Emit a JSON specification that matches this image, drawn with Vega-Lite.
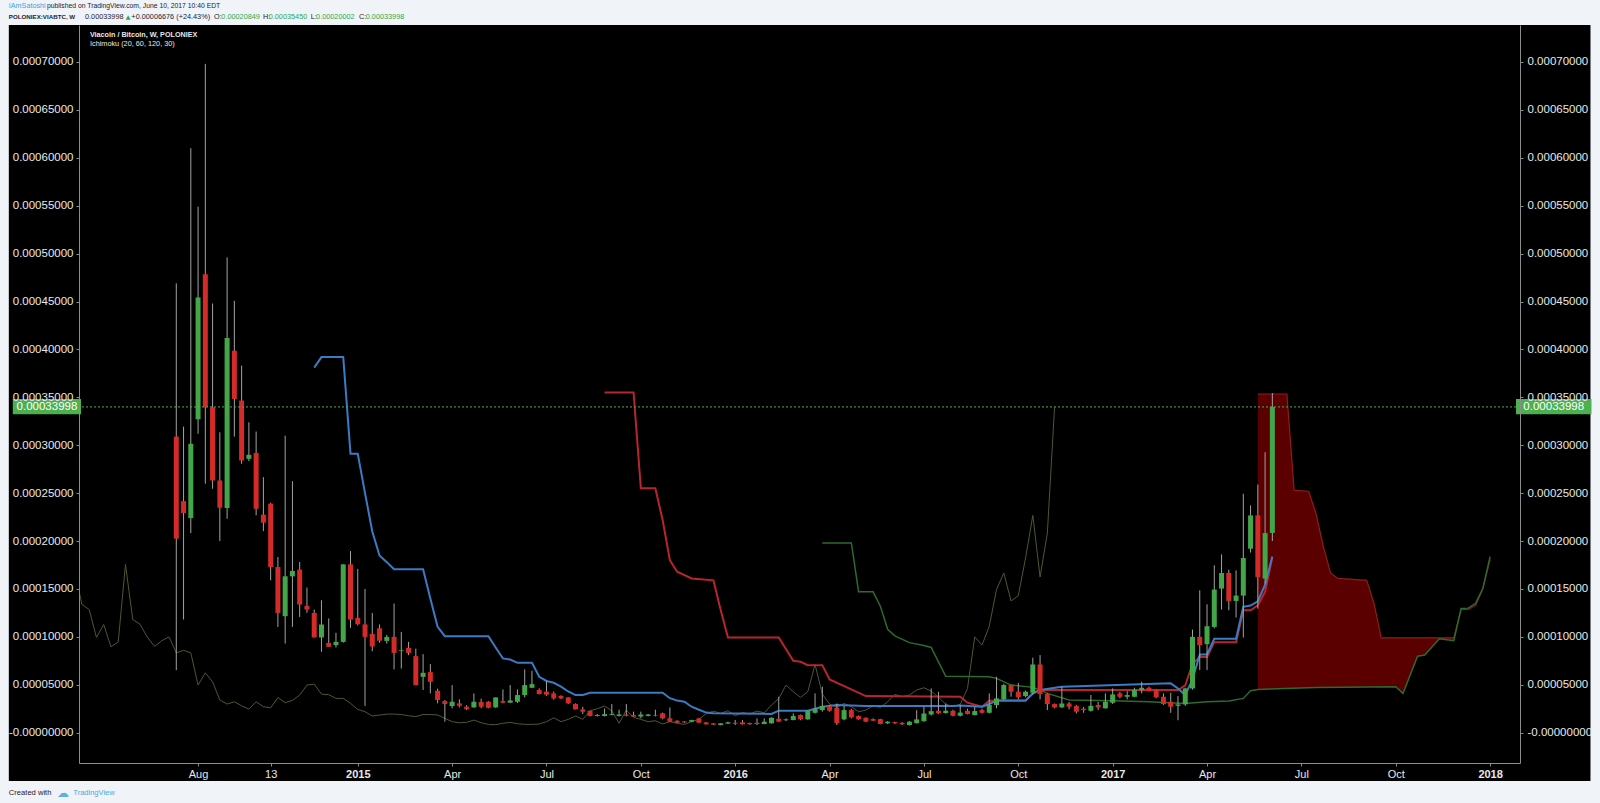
{
"$schema": "https://vega.github.io/schema/vega-lite/v6.json",
"width": 1441, "height": 738,
"autosize": {"type": "none"},
"padding": {"left": 79, "top": 25, "right": 80, "bottom": 40},
"background": "#f0f3f7",
"config": {"view": {"stroke": null}, "axis": {"grid": false, "title": null, "zindex": 1}},
"resolve": {"axis": {"x": "independent", "y": "independent"}},
"data": {"values": [{"k": 1}]},
"datasets": {
"candles": [
{"d":"2014-07-14","o":0.000309,"h":0.000469,"l":0.0000653,"c":0.0002025},
{"d":"2014-07-21","o":0.0002417,"h":0.0003195,"l":0.0001181,"c":0.0002292},
{"d":"2014-07-28","o":0.000224,"h":0.00061,"l":0.0002083,"c":0.0003015},
{"d":"2014-08-04","o":0.0003271,"h":0.000549,"l":0.0003119,"c":0.0004542},
{"d":"2014-08-11","o":0.0004785,"h":0.000698,"l":0.0002598,"c":0.0003396},
{"d":"2014-08-18","o":0.0003396,"h":0.0004479,"l":0.0002546,"c":0.0002632},
{"d":"2014-08-25","o":0.0002632,"h":0.0003135,"l":0.0002,"c":0.0002348},
{"d":"2014-09-01","o":0.0002344,"h":0.000496,"l":0.0002233,"c":0.0004119},
{"d":"2014-09-08","o":0.0003986,"h":0.0004507,"l":0.000309,"c":0.0003483},
{"d":"2014-09-15","o":0.0003466,"h":0.000383,"l":0.0002806,"c":0.0002841},
{"d":"2014-09-22","o":0.0002858,"h":0.000324,"l":0.0002833,"c":0.00029},
{"d":"2014-09-29","o":0.000292,"h":0.0003143,"l":0.0002268,"c":0.0002337},
{"d":"2014-10-06","o":0.0002275,"h":0.0002667,"l":0.0002104,"c":0.0002192},
{"d":"2014-10-13","o":0.000239,"h":0.00024,"l":0.000159,"c":0.0001729},
{"d":"2014-10-20","o":0.0001729,"h":0.0001833,"l":0.0001104,"c":0.000125},
{"d":"2014-10-27","o":0.0001216,"h":0.00031,"l":0.0000931,"c":0.0001632},
{"d":"2014-11-03","o":0.0001632,"h":0.0002625,"l":0.0001104,"c":0.0001688},
{"d":"2014-11-10","o":0.0001702,"h":0.0001781,"l":0.0001208,"c":0.0001338},
{"d":"2014-11-17","o":0.0001323,"h":0.0001515,"l":0.000125,"c":0.0001285},
{"d":"2014-11-24","o":0.000125,"h":0.0001285,"l":0.0000994,"c":0.0000994},
{"d":"2014-12-01","o":0.0000994,"h":0.0001382,"l":0.0000844,"c":0.0001129},
{"d":"2014-12-08","o":0.0000937,"h":0.0001192,"l":0.0000896,"c":0.0000896},
{"d":"2014-12-15","o":0.0000914,"h":0.0001042,"l":0.0000889,"c":0.0000948},
{"d":"2014-12-22","o":0.0000948,"h":0.0001757,"l":0.000094,"c":0.0001757},
{"d":"2014-12-29","o":0.0001757,"h":0.0001896,"l":0.0001094,"c":0.0001181},
{"d":"2015-01-05","o":0.0001198,"h":0.000171,"l":0.000112,"c":0.0001132},
{"d":"2015-01-12","o":0.000113,"h":0.00015,"l":0.000028,"c":0.0001},
{"d":"2015-01-19","o":0.000103,"h":0.000125,"l":0.000085,"c":0.00009},
{"d":"2015-01-26","o":0.000109,"h":0.000113,"l":0.000094,"c":0.000096},
{"d":"2015-02-02","o":0.0000958,"h":0.000102,"l":0.000093,"c":0.0001},
{"d":"2015-02-09","o":0.0001,"h":0.0001348,"l":0.000066,"c":0.0000833},
{"d":"2015-02-16","o":0.0000853,"h":0.0001052,"l":0.000067,"c":0.000086},
{"d":"2015-02-23","o":0.0000885,"h":0.0000948,"l":0.0000809,"c":0.0000833},
{"d":"2015-03-02","o":0.0000799,"h":0.0000877,"l":0.0000497,"c":0.0000497},
{"d":"2015-03-09","o":0.0000583,"h":0.000082,"l":0.0000445,"c":0.0000625},
{"d":"2015-03-16","o":0.0000632,"h":0.0000716,"l":0.000041,"c":0.0000531},
{"d":"2015-03-23","o":0.0000438,"h":0.000046,"l":0.0000306,"c":0.0000341},
{"d":"2015-03-30","o":0.000033,"h":0.0000341,"l":0.0000115,"c":0.0000299},
{"d":"2015-04-06","o":0.0000278,"h":0.0000497,"l":0.0000254,"c":0.0000323},
{"d":"2015-04-13","o":0.0000306,"h":0.0000348,"l":0.0000264,"c":0.0000281},
{"d":"2015-04-20","o":0.0000271,"h":0.0000288,"l":0.0000236,"c":0.0000247},
{"d":"2015-04-27","o":0.0000264,"h":0.000041,"l":0.000026,"c":0.0000323},
{"d":"2015-05-04","o":0.000032,"h":0.0000355,"l":0.0000255,"c":0.0000271},
{"d":"2015-05-11","o":0.0000323,"h":0.000033,"l":0.0000255,"c":0.000026},
{"d":"2015-05-18","o":0.0000264,"h":0.0000368,"l":0.000026,"c":0.0000368},
{"d":"2015-05-25","o":0.000033,"h":0.0000452,"l":0.0000306,"c":0.0000313},
{"d":"2015-06-01","o":0.0000313,"h":0.0000497,"l":0.000031,"c":0.0000337},
{"d":"2015-06-08","o":0.0000323,"h":0.0000452,"l":0.000031,"c":0.0000393},
{"d":"2015-06-15","o":0.0000393,"h":0.000066,"l":0.0000368,"c":0.0000497},
{"d":"2015-06-22","o":0.0000469,"h":0.0000646,"l":0.0000465,"c":0.0000507},
{"d":"2015-06-29","o":0.0000445,"h":0.0000462,"l":0.00004,"c":0.0000403},
{"d":"2015-07-06","o":0.0000428,"h":0.0000542,"l":0.0000385,"c":0.0000397},
{"d":"2015-07-13","o":0.000041,"h":0.000043,"l":0.0000345,"c":0.0000358},
{"d":"2015-07-20","o":0.0000383,"h":0.000039,"l":0.0000352,"c":0.0000358},
{"d":"2015-07-27","o":0.0000368,"h":0.0000372,"l":0.00003,"c":0.0000306},
{"d":"2015-08-03","o":0.0000299,"h":0.0000306,"l":0.0000243,"c":0.0000243},
{"d":"2015-08-10","o":0.0000243,"h":0.000027,"l":0.0000195,"c":0.0000219},
{"d":"2015-08-17","o":0.0000229,"h":0.000023,"l":0.000017,"c":0.0000174},
{"d":"2015-08-24","o":0.0000174,"h":0.0000195,"l":0.000017,"c":0.0000184},
{"d":"2015-08-31","o":0.0000174,"h":0.0000253,"l":0.000017,"c":0.0000194},
{"d":"2015-09-07","o":0.0000185,"h":0.0000299,"l":0.000018,"c":0.0000194},
{"d":"2015-09-14","o":0.0000175,"h":0.000024,"l":0.000017,"c":0.000019},
{"d":"2015-09-21","o":0.000019,"h":0.0000299,"l":0.000017,"c":0.0000177},
{"d":"2015-09-28","o":0.0000185,"h":0.000022,"l":0.0000165,"c":0.0000168},
{"d":"2015-10-05","o":0.0000168,"h":0.000022,"l":0.000015,"c":0.000019},
{"d":"2015-10-12","o":0.0000175,"h":0.0000195,"l":0.000017,"c":0.000019},
{"d":"2015-10-19","o":0.000018,"h":0.000024,"l":0.000017,"c":0.0000185},
{"d":"2015-10-26","o":0.0000202,"h":0.000021,"l":0.000014,"c":0.000015},
{"d":"2015-11-02","o":0.000015,"h":0.0000264,"l":0.000011,"c":0.0000115},
{"d":"2015-11-09","o":0.0000125,"h":0.000013,"l":0.00001,"c":0.0000104},
{"d":"2015-11-16","o":0.0000118,"h":0.000012,"l":0.00001,"c":0.0000108},
{"d":"2015-11-23","o":0.0000115,"h":0.0000135,"l":0.000011,"c":0.0000132},
{"d":"2015-11-30","o":0.0000149,"h":0.0000155,"l":0.00001,"c":0.0000104},
{"d":"2015-12-07","o":0.0000108,"h":0.000011,"l":0.0000084,"c":0.0000087},
{"d":"2015-12-14","o":0.0000098,"h":0.00001,"l":0.000008,"c":0.0000084},
{"d":"2015-12-21","o":0.000008,"h":0.00001,"l":0.0000077,"c":0.0000098},
{"d":"2015-12-28","o":0.0000094,"h":0.0000115,"l":0.000009,"c":0.0000108},
{"d":"2016-01-04","o":0.0000104,"h":0.0000132,"l":0.000008,"c":0.0000094},
{"d":"2016-01-11","o":0.0000108,"h":0.0000132,"l":0.0000085,"c":0.0000087},
{"d":"2016-01-18","o":0.0000101,"h":0.0000105,"l":0.0000084,"c":0.0000087},
{"d":"2016-01-25","o":0.0000104,"h":0.0000149,"l":0.000008,"c":0.0000091},
{"d":"2016-02-01","o":0.0000091,"h":0.0000149,"l":0.0000088,"c":0.0000115},
{"d":"2016-02-08","o":0.0000098,"h":0.000016,"l":0.0000095,"c":0.0000156},
{"d":"2016-02-15","o":0.0000146,"h":0.0000375,"l":0.000011,"c":0.0000115},
{"d":"2016-02-22","o":0.000013,"h":0.000015,"l":0.000012,"c":0.0000139},
{"d":"2016-02-29","o":0.0000132,"h":0.0000202,"l":0.000013,"c":0.0000174},
{"d":"2016-03-07","o":0.0000184,"h":0.000019,"l":0.000013,"c":0.0000139},
{"d":"2016-03-14","o":0.0000139,"h":0.0000235,"l":0.0000135,"c":0.0000229},
{"d":"2016-03-21","o":0.0000208,"h":0.000041,"l":0.00002,"c":0.000025},
{"d":"2016-03-28","o":0.0000236,"h":0.000048,"l":0.000022,"c":0.0000278},
{"d":"2016-04-04","o":0.0000278,"h":0.000029,"l":0.000022,"c":0.0000229},
{"d":"2016-04-11","o":0.000026,"h":0.0000305,"l":0.000008,"c":0.0000098},
{"d":"2016-04-18","o":0.0000139,"h":0.000028,"l":0.000013,"c":0.0000236},
{"d":"2016-04-25","o":0.0000236,"h":0.000025,"l":0.000015,"c":0.000016},
{"d":"2016-05-02","o":0.0000174,"h":0.000018,"l":0.0000135,"c":0.0000139},
{"d":"2016-05-09","o":0.0000156,"h":0.000016,"l":0.000011,"c":0.0000115},
{"d":"2016-05-16","o":0.0000142,"h":0.000015,"l":0.000012,"c":0.0000125},
{"d":"2016-05-23","o":0.0000142,"h":0.0000145,"l":0.0000088,"c":0.0000091},
{"d":"2016-05-30","o":0.0000098,"h":0.000012,"l":0.000009,"c":0.0000115},
{"d":"2016-06-06","o":0.0000111,"h":0.0000115,"l":0.000009,"c":0.0000098},
{"d":"2016-06-13","o":0.0000104,"h":0.000011,"l":0.000008,"c":0.0000087},
{"d":"2016-06-20","o":0.000008,"h":0.000012,"l":0.0000075,"c":0.0000115},
{"d":"2016-06-27","o":0.00001,"h":0.0000236,"l":0.0000095,"c":0.0000139},
{"d":"2016-07-04","o":0.000012,"h":0.000027,"l":0.0000115,"c":0.00002},
{"d":"2016-07-11","o":0.000019,"h":0.0000462,"l":0.000018,"c":0.0000225},
{"d":"2016-07-18","o":0.0000229,"h":0.0000427,"l":0.0000195,"c":0.0000202},
{"d":"2016-07-25","o":0.0000205,"h":0.0000305,"l":0.00002,"c":0.0000229},
{"d":"2016-08-01","o":0.0000229,"h":0.000024,"l":0.000017,"c":0.0000177},
{"d":"2016-08-08","o":0.0000177,"h":0.000029,"l":0.000017,"c":0.000021},
{"d":"2016-08-15","o":0.0000229,"h":0.000025,"l":0.000019,"c":0.0000195},
{"d":"2016-08-22","o":0.0000184,"h":0.000027,"l":0.000018,"c":0.0000226},
{"d":"2016-08-29","o":0.0000236,"h":0.000025,"l":0.00002,"c":0.0000208},
{"d":"2016-09-05","o":0.0000208,"h":0.000041,"l":0.00002,"c":0.0000289},
{"d":"2016-09-12","o":0.0000289,"h":0.0000584,"l":0.0000254,"c":0.0000358},
{"d":"2016-09-19","o":0.0000348,"h":0.000051,"l":0.000034,"c":0.0000497},
{"d":"2016-09-26","o":0.0000497,"h":0.00005,"l":0.0000375,"c":0.0000428},
{"d":"2016-10-03","o":0.0000428,"h":0.000052,"l":0.000035,"c":0.0000369},
{"d":"2016-10-10","o":0.0000382,"h":0.000044,"l":0.000037,"c":0.0000428},
{"d":"2016-10-17","o":0.0000417,"h":0.0000783,"l":0.00004,"c":0.0000712},
{"d":"2016-10-24","o":0.0000712,"h":0.000081,"l":0.0000348,"c":0.0000403},
{"d":"2016-10-31","o":0.0000403,"h":0.000041,"l":0.0000236,"c":0.0000299},
{"d":"2016-11-07","o":0.0000299,"h":0.0000305,"l":0.0000255,"c":0.0000264},
{"d":"2016-11-14","o":0.0000264,"h":0.000048,"l":0.000026,"c":0.0000305},
{"d":"2016-11-21","o":0.0000305,"h":0.000032,"l":0.0000243,"c":0.0000271},
{"d":"2016-11-28","o":0.0000278,"h":0.000029,"l":0.00002,"c":0.0000219},
{"d":"2016-12-05","o":0.000025,"h":0.000027,"l":0.0000208,"c":0.0000236},
{"d":"2016-12-12","o":0.0000229,"h":0.0000393,"l":0.000022,"c":0.0000281},
{"d":"2016-12-19","o":0.0000289,"h":0.000032,"l":0.0000236,"c":0.0000264},
{"d":"2016-12-26","o":0.0000254,"h":0.000041,"l":0.000025,"c":0.0000323},
{"d":"2017-01-02","o":0.0000313,"h":0.0000462,"l":0.00003,"c":0.00004},
{"d":"2017-01-09","o":0.000041,"h":0.0000427,"l":0.0000358,"c":0.0000375},
{"d":"2017-01-16","o":0.0000375,"h":0.0000434,"l":0.0000348,"c":0.0000393},
{"d":"2017-01-23","o":0.0000375,"h":0.0000469,"l":0.000037,"c":0.0000445},
{"d":"2017-01-30","o":0.0000445,"h":0.0000531,"l":0.000041,"c":0.0000469},
{"d":"2017-02-06","o":0.0000469,"h":0.000048,"l":0.000043,"c":0.0000434},
{"d":"2017-02-13","o":0.0000445,"h":0.000045,"l":0.000036,"c":0.0000369},
{"d":"2017-02-20","o":0.0000375,"h":0.000041,"l":0.000029,"c":0.0000299},
{"d":"2017-02-27","o":0.0000323,"h":0.0000417,"l":0.0000208,"c":0.0000271},
{"d":"2017-03-06","o":0.000028,"h":0.0000382,"l":0.000013,"c":0.0000295},
{"d":"2017-03-13","o":0.0000296,"h":0.000047,"l":0.000028,"c":0.0000462},
{"d":"2017-03-20","o":0.0000462,"h":0.0001076,"l":0.000045,"c":0.0001},
{"d":"2017-03-27","o":0.0001,"h":0.0001486,"l":0.0000653,"c":0.0000914},
{"d":"2017-04-03","o":0.0000924,"h":0.000134,"l":0.0000653,"c":0.0001111},
{"d":"2017-04-10","o":0.0001104,"h":0.0001747,"l":0.000109,"c":0.0001494},
{"d":"2017-04-17","o":0.0001504,"h":0.0001861,"l":0.0001285,"c":0.0001667},
{"d":"2017-04-24","o":0.0001667,"h":0.00017,"l":0.0001278,"c":0.0001375},
{"d":"2017-05-01","o":0.0001375,"h":0.0001694,"l":0.0001202,"c":0.0001431},
{"d":"2017-05-08","o":0.0001431,"h":0.0002494,"l":0.0000993,"c":0.0001823},
{"d":"2017-05-15","o":0.000192,"h":0.0002372,"l":0.000188,"c":0.0002268},
{"d":"2017-05-22","o":0.0002268,"h":0.000259,"l":0.0001295,"c":0.0001625},
{"d":"2017-05-29","o":0.0001608,"h":0.0002927,"l":0.0001556,"c":0.0002083},
{"d":"2017-06-05","o":0.00020849,"h":0.0003545,"l":0.00020002,"c":0.00033998}
],
"lag": [
{"d":"2014-04-07","v":0.0001688},{"d":"2014-04-14","v":0.0001338},{"d":"2014-04-21","v":0.0001285},{"d":"2014-04-28","v":0.0000994},
{"d":"2014-05-05","v":0.0001129},{"d":"2014-05-12","v":0.0000896},{"d":"2014-05-19","v":0.0000948},{"d":"2014-05-26","v":0.0001757},
{"d":"2014-06-02","v":0.0001181},{"d":"2014-06-09","v":0.0001132},{"d":"2014-06-16","v":0.0001},{"d":"2014-06-23","v":0.00009},
{"d":"2014-06-30","v":0.000096},{"d":"2014-07-07","v":0.0001},{"d":"2014-07-14","v":0.0000833},{"d":"2014-07-21","v":0.000086},
{"d":"2014-07-28","v":0.0000833},{"d":"2014-08-04","v":0.0000497},{"d":"2014-08-11","v":0.0000625},{"d":"2014-08-18","v":0.0000531},
{"d":"2014-08-25","v":0.0000341},{"d":"2014-09-01","v":0.0000299},{"d":"2014-09-08","v":0.0000323},{"d":"2014-09-15","v":0.0000281},
{"d":"2014-09-22","v":0.0000247},{"d":"2014-09-29","v":0.0000323},{"d":"2014-10-06","v":0.0000271},{"d":"2014-10-13","v":0.000026},
{"d":"2014-10-20","v":0.0000368},{"d":"2014-10-27","v":0.0000313},{"d":"2014-11-03","v":0.0000337},{"d":"2014-11-10","v":0.0000393},
{"d":"2014-11-17","v":0.0000497},{"d":"2014-11-24","v":0.0000507},{"d":"2014-12-01","v":0.0000403},{"d":"2014-12-08","v":0.0000397},
{"d":"2014-12-15","v":0.0000358},{"d":"2014-12-22","v":0.0000358},{"d":"2014-12-29","v":0.0000306},{"d":"2015-01-05","v":0.0000243},
{"d":"2015-01-12","v":0.0000219},{"d":"2015-01-19","v":0.0000174},{"d":"2015-01-26","v":0.0000184},{"d":"2015-02-02","v":0.0000194},
{"d":"2015-02-09","v":0.0000194},{"d":"2015-02-16","v":0.000019},{"d":"2015-02-23","v":0.0000177},{"d":"2015-03-02","v":0.0000168},
{"d":"2015-03-09","v":0.000019},{"d":"2015-03-16","v":0.000019},{"d":"2015-03-23","v":0.0000185},{"d":"2015-03-30","v":0.000015},
{"d":"2015-04-06","v":0.0000115},{"d":"2015-04-13","v":0.0000104},{"d":"2015-04-20","v":0.0000108},{"d":"2015-04-27","v":0.0000132},
{"d":"2015-05-04","v":0.0000104},{"d":"2015-05-11","v":0.0000087},{"d":"2015-05-18","v":0.0000084},{"d":"2015-05-25","v":0.0000098},
{"d":"2015-06-01","v":0.0000108},{"d":"2015-06-08","v":0.0000094},{"d":"2015-06-15","v":0.0000087},{"d":"2015-06-22","v":0.0000087},
{"d":"2015-06-29","v":0.0000091},{"d":"2015-07-06","v":0.0000115},{"d":"2015-07-13","v":0.0000156},{"d":"2015-07-20","v":0.0000115},
{"d":"2015-07-27","v":0.0000139},{"d":"2015-08-03","v":0.0000174},{"d":"2015-08-10","v":0.0000139},{"d":"2015-08-17","v":0.0000229},
{"d":"2015-08-24","v":0.000025},{"d":"2015-08-31","v":0.0000278},{"d":"2015-09-07","v":0.0000229},{"d":"2015-09-14","v":0.0000098},
{"d":"2015-09-21","v":0.0000236},{"d":"2015-09-28","v":0.000016},{"d":"2015-10-05","v":0.0000139},{"d":"2015-10-12","v":0.0000115},
{"d":"2015-10-19","v":0.0000125},{"d":"2015-10-26","v":0.0000091},{"d":"2015-11-02","v":0.0000115},{"d":"2015-11-09","v":0.0000098},
{"d":"2015-11-16","v":0.0000087},{"d":"2015-11-23","v":0.0000115},{"d":"2015-11-30","v":0.0000139},{"d":"2015-12-07","v":0.00002},
{"d":"2015-12-14","v":0.0000225},{"d":"2015-12-21","v":0.0000202},{"d":"2015-12-28","v":0.0000229},{"d":"2016-01-04","v":0.0000177},
{"d":"2016-01-11","v":0.000021},{"d":"2016-01-18","v":0.0000195},{"d":"2016-01-25","v":0.0000226},{"d":"2016-02-01","v":0.0000208},
{"d":"2016-02-08","v":0.0000289},{"d":"2016-02-15","v":0.0000358},{"d":"2016-02-22","v":0.0000497},{"d":"2016-02-29","v":0.0000428},
{"d":"2016-03-07","v":0.0000369},{"d":"2016-03-14","v":0.0000428},{"d":"2016-03-21","v":0.0000712},{"d":"2016-03-28","v":0.0000403},
{"d":"2016-04-04","v":0.0000299},{"d":"2016-04-11","v":0.0000264},{"d":"2016-04-18","v":0.0000305},{"d":"2016-04-25","v":0.0000271},
{"d":"2016-05-02","v":0.0000219},{"d":"2016-05-09","v":0.0000236},{"d":"2016-05-16","v":0.0000281},{"d":"2016-05-23","v":0.0000264},
{"d":"2016-05-30","v":0.0000323},{"d":"2016-06-06","v":0.00004},{"d":"2016-06-13","v":0.0000375},{"d":"2016-06-20","v":0.0000393},
{"d":"2016-06-27","v":0.0000445},{"d":"2016-07-04","v":0.0000469},{"d":"2016-07-11","v":0.0000434},{"d":"2016-07-18","v":0.0000369},
{"d":"2016-07-25","v":0.0000299},{"d":"2016-08-01","v":0.0000271},{"d":"2016-08-08","v":0.0000295},{"d":"2016-08-15","v":0.0000462},
{"d":"2016-08-22","v":0.0001},{"d":"2016-08-29","v":0.0000914},{"d":"2016-09-05","v":0.0001111},{"d":"2016-09-12","v":0.0001494},
{"d":"2016-09-19","v":0.0001667},{"d":"2016-09-26","v":0.0001375},{"d":"2016-10-03","v":0.0001431},{"d":"2016-10-10","v":0.0001823},
{"d":"2016-10-17","v":0.0002268},{"d":"2016-10-24","v":0.0001625},{"d":"2016-10-31","v":0.0002083},{"d":"2016-11-07","v":0.00033998}
],
"tenkan": [
{"d":"2014-11-24","v":0.000381},{"d":"2014-12-01","v":0.000392},{"d":"2014-12-22","v":0.000392},{"d":"2014-12-29","v":0.000291},
{"d":"2015-01-05","v":0.000291},{"d":"2015-01-12","v":0.00025},{"d":"2015-01-19","v":0.00021},{"d":"2015-01-26","v":0.000185},
{"d":"2015-02-02","v":0.000178},{"d":"2015-02-09","v":0.0001705},{"d":"2015-03-09","v":0.0001705},{"d":"2015-03-16","v":0.00014},
{"d":"2015-03-23","v":0.0001105},{"d":"2015-03-30","v":0.0001007},{"d":"2015-05-11","v":0.0001007},{"d":"2015-05-18","v":0.000089},
{"d":"2015-05-25","v":0.0000775},{"d":"2015-06-01","v":0.0000764},{"d":"2015-06-08","v":0.0000729},{"d":"2015-06-22","v":0.0000729},
{"d":"2015-06-29","v":0.0000584},{"d":"2015-07-06","v":0.000054},{"d":"2015-07-13","v":0.0000521},{"d":"2015-07-20","v":0.000048},
{"d":"2015-07-27","v":0.000043},{"d":"2015-08-03","v":0.0000393},{"d":"2015-08-10","v":0.0000393},{"d":"2015-08-17","v":0.0000417},
{"d":"2015-10-26","v":0.0000417},{"d":"2015-11-02","v":0.000036},{"d":"2015-11-09","v":0.0000335},{"d":"2015-11-16","v":0.0000324},
{"d":"2015-11-23","v":0.0000271},{"d":"2015-11-30","v":0.000024},{"d":"2015-12-07","v":0.000021},{"d":"2015-12-14","v":0.0000202},
{"d":"2016-02-08","v":0.0000196},{"d":"2016-02-15","v":0.000023},{"d":"2016-03-14","v":0.000023},{"d":"2016-03-21","v":0.000025},
{"d":"2016-03-28","v":0.0000271},{"d":"2016-04-11","v":0.0000288},{"d":"2016-05-09","v":0.0000278},{"d":"2016-08-01","v":0.0000278},
{"d":"2016-08-08","v":0.0000285},{"d":"2016-08-29","v":0.0000271},{"d":"2016-09-05","v":0.00003},{"d":"2016-09-12","v":0.0000335},
{"d":"2016-10-10","v":0.0000335},{"d":"2016-10-17","v":0.000041},{"d":"2016-10-24","v":0.0000445},{"d":"2016-11-14","v":0.000048},
{"d":"2017-02-27","v":0.0000515},{"d":"2017-03-06","v":0.0000462},{"d":"2017-03-13","v":0.0000393},{"d":"2017-03-20","v":0.0000556},
{"d":"2017-03-27","v":0.0000816},{"d":"2017-04-03","v":0.0000816},{"d":"2017-04-10","v":0.000098},{"d":"2017-05-01","v":0.000098},
{"d":"2017-05-08","v":0.0001313},{"d":"2017-05-15","v":0.0001327},{"d":"2017-05-22","v":0.0001372},{"d":"2017-05-29","v":0.0001545},
{"d":"2017-06-05","v":0.000184}
],
"kijun": [
{"d":"2015-08-31","v":0.000355},{"d":"2015-09-28","v":0.000355},{"d":"2015-10-05","v":0.000255},{"d":"2015-10-19","v":0.000255},
{"d":"2015-10-26","v":0.000222},{"d":"2015-11-02","v":0.00018},{"d":"2015-11-09","v":0.000168},{"d":"2015-11-23","v":0.000161},
{"d":"2015-12-14","v":0.000159},{"d":"2015-12-21","v":0.000128},{"d":"2015-12-28","v":0.0000994},{"d":"2016-02-15","v":0.0000994},
{"d":"2016-02-29","v":0.0000751},{"d":"2016-03-07","v":0.000074},{"d":"2016-03-14","v":0.0000705},{"d":"2016-03-28","v":0.0000705},
{"d":"2016-04-04","v":0.0000556},{"d":"2016-05-09","v":0.0000382},{"d":"2016-08-08","v":0.0000375},{"d":"2016-08-15","v":0.0000313},
{"d":"2016-08-29","v":0.0000271},{"d":"2016-09-05","v":0.0000334},{"d":"2016-10-10","v":0.0000334},{"d":"2016-10-17","v":0.000041},
{"d":"2016-10-24","v":0.0000445},{"d":"2017-03-06","v":0.0000445},{"d":"2017-03-13","v":0.0000493},{"d":"2017-03-20","v":0.0000719},
{"d":"2017-03-27","v":0.0000789},{"d":"2017-04-03","v":0.0000789},{"d":"2017-04-10","v":0.0000945},{"d":"2017-05-01","v":0.0000945},
{"d":"2017-05-08","v":0.0001278},{"d":"2017-05-15","v":0.0001278},{"d":"2017-05-22","v":0.000133},{"d":"2017-05-29","v":0.0001469},
{"d":"2017-06-05","v":0.0001833}
],
"spanA": [
{"d":"2016-03-28","v":0.000198},{"d":"2016-04-25","v":0.000198},{"d":"2016-05-02","v":0.000147},{"d":"2016-05-16","v":0.000147},
{"d":"2016-05-23","v":0.000132},{"d":"2016-05-30","v":0.000108},{"d":"2016-06-06","v":0.000101},{"d":"2016-06-20","v":0.000094},
{"d":"2016-07-04","v":0.000091},{"d":"2016-07-11","v":0.000089},{"d":"2016-07-18","v":0.000074},{"d":"2016-07-25","v":0.000059},
{"d":"2016-09-05","v":0.0000584},{"d":"2016-09-12","v":0.0000567},{"d":"2016-09-26","v":0.0000497},{"d":"2016-10-17","v":0.0000473},
{"d":"2016-10-24","v":0.0000445},{"d":"2016-10-31","v":0.000041},{"d":"2016-11-21","v":0.0000341},{"d":"2017-01-02","v":0.0000334},
{"d":"2017-02-06","v":0.0000323},{"d":"2017-03-13","v":0.0000306},{"d":"2017-04-03","v":0.0000323},{"d":"2017-04-24","v":0.000033},
{"d":"2017-05-08","v":0.0000358},{"d":"2017-05-15","v":0.0000438},{"d":"2017-05-22","v":0.0000451},{"d":"2017-07-17","v":0.0000472},
{"d":"2017-10-02","v":0.0000479},{"d":"2017-10-09","v":0.000041},{"d":"2017-10-23","v":0.0000799},{"d":"2017-10-30","v":0.000081},
{"d":"2017-11-13","v":0.000098},{"d":"2017-11-27","v":0.000096},{"d":"2017-12-04","v":0.0001296},{"d":"2017-12-11","v":0.00013},
{"d":"2017-12-18","v":0.000135},{"d":"2017-12-25","v":0.0001507},{"d":"2018-01-01","v":0.0001837}
],
"spanB": [
{"d":"2017-05-22","v":0.0003535},{"d":"2017-06-19","v":0.0003535},{"d":"2017-06-26","v":0.0002528},{"d":"2017-07-10","v":0.000252},
{"d":"2017-07-17","v":0.000229},{"d":"2017-07-24","v":0.000195},{"d":"2017-07-31","v":0.000167},{"d":"2017-08-07","v":0.000161},
{"d":"2017-09-04","v":0.000159},{"d":"2017-09-11","v":0.000135},{"d":"2017-09-18","v":0.000099},{"d":"2017-11-27","v":0.000099},
{"d":"2017-12-04","v":0.0001286},{"d":"2017-12-11","v":0.0001286},{"d":"2017-12-18","v":0.000133},{"d":"2017-12-25","v":0.00015},
{"d":"2018-01-01","v":0.000181}
],
"cloud": [
{"d":"2017-05-22","a":0.0000451,"b":0.0003535},{"d":"2017-06-19","a":0.0000462,"b":0.0003535},{"d":"2017-06-26","a":0.0000464,"b":0.0002528},
{"d":"2017-07-10","a":0.0000469,"b":0.000252},{"d":"2017-07-17","a":0.0000472,"b":0.000229},{"d":"2017-07-24","a":0.0000473,"b":0.000195},
{"d":"2017-07-31","a":0.0000473,"b":0.000167},{"d":"2017-08-07","a":0.0000474,"b":0.000161},{"d":"2017-09-04","a":0.0000476,"b":0.000159},
{"d":"2017-09-11","a":0.0000477,"b":0.000135},{"d":"2017-09-18","a":0.0000478,"b":0.000099},{"d":"2017-10-02","a":0.0000479,"b":0.000099},
{"d":"2017-10-09","a":0.000041,"b":0.000099},{"d":"2017-10-23","a":0.0000799,"b":0.000099},{"d":"2017-10-30","a":0.000081,"b":0.000099},
{"d":"2017-11-13","a":0.000098,"b":0.000099},{"d":"2017-11-27","a":0.000096,"b":0.000099}
]
},
"layer": [
{"mark": {"type": "rect", "color": "#000000"},
 "encoding": {"x": {"datum": 1391342772000, "type": "temporal", "axis": null}, "x2": {"datum": 1523127182000},
  "y": {"datum": 0.00073857, "type": "quantitative", "axis": null}, "y2": {"datum": -0.0000504}}},
{"data": {"name": "cloud"}, "mark": {"type": "area", "color": "#5a0000", "opacity": 1},
 "encoding": {"x": {"field": "d", "type": "temporal", "axis": null}, "y": {"field": "b", "type": "quantitative", "axis": null}, "y2": {"field": "a"}}},
{"data": {"name": "spanB"}, "mark": {"type": "line", "color": "#8c1f1c", "strokeWidth": 1.2},
 "encoding": {"x": {"field": "d", "type": "temporal", "axis": null}, "y": {"field": "v", "type": "quantitative", "axis": null}}},
{"data": {"name": "spanA"}, "mark": {"type": "line", "color": "#2c6a2f", "strokeWidth": 1.5},
 "encoding": {"x": {"field": "d", "type": "temporal", "axis": null}, "y": {"field": "v", "type": "quantitative", "axis": null}}},
{"data": {"name": "lag"}, "mark": {"type": "line", "color": "#4a5931", "strokeWidth": 1, "clip": true},
 "encoding": {"x": {"field": "d", "type": "temporal", "axis": null}, "y": {"field": "v", "type": "quantitative", "axis": null}}},
{"data": {"name": "kijun"}, "mark": {"type": "line", "color": "#b8262b", "strokeWidth": 2},
 "encoding": {"x": {"field": "d", "type": "temporal", "axis": null}, "y": {"field": "v", "type": "quantitative", "axis": null}}},
{"data": {"name": "tenkan"}, "mark": {"type": "line", "color": "#3a7cc4", "strokeWidth": 2},
 "encoding": {"x": {"field": "d", "type": "temporal", "axis": null}, "y": {"field": "v", "type": "quantitative", "axis": null}}},
{"data": {"name": "candles"}, "mark": {"type": "rule", "color": "#a3a3a3", "strokeWidth": 1},
 "encoding": {
  "x": {"field": "d", "type": "temporal",
   "scale": {"type": "utc", "domain": [1397606400000, 1516838400000]},
   "axis": {"orient": "bottom", "values": [1407110400000, 1413158400000, 1420416000000, 1428278400000, 1436140800000, 1444003200000, 1451865600000, 1459728000000, 1467590400000, 1475452800000, 1483315200000, 1491177600000, 1499040000000, 1506902400000, 1514764800000],
    "labelExpr": "utcmonth(datum.value) == 0 ? utcFormat(datum.value, '%Y') : (utcdate(datum.value) == 13 ? '13' : utcFormat(datum.value, '%b'))",
    "labelFontWeight": {"condition": {"test": "utcmonth(datum.value) == 0", "value": "bold"}, "value": "normal"},
    "labelFont": "Liberation Sans", "labelFontSize": 11, "labelColor": "#e8e8e8", "labelPadding": 2, "labelOverlap": false, "labelFlush": false,
    "domainColor": "#8c8c8c", "tickColor": "#8c8c8c", "tickSize": 3, "grid": false, "title": null, "zindex": 1}},
  "y": {"field": "l", "type": "quantitative",
   "scale": {"domain": [-0.00003162, 0.00073857], "nice": false, "zero": false},
   "axis": {"orient": "left", "values": [0, 0.00005, 0.0001, 0.00015, 0.0002, 0.00025, 0.0003, 0.00035, 0.0004, 0.00045, 0.0005, 0.00055, 0.0006, 0.00065, 0.0007],
    "labelExpr": "abs(datum.value) < 1e-12 ? '-0.00000000' : format(datum.value, '.8f')",
    "labelFont": "Liberation Sans", "labelFontSize": 11.5, "labelColor": "#e8e8e8", "labelPadding": 3,
    "domainColor": "#8c8c8c", "tickColor": "#8c8c8c", "tickSize": 3, "grid": false, "title": null, "zindex": 1}},
  "y2": {"field": "h"}}},
{"data": {"name": "candles"}, "mark": {"type": "bar", "width": 5},
 "encoding": {
  "x": {"field": "d", "type": "temporal", "axis": null},
  "y": {"field": "o", "type": "quantitative",
   "scale": {"domain": [-0.00003162, 0.00073857], "nice": false, "zero": false},
   "axis": {"orient": "right", "values": [0, 0.00005, 0.0001, 0.00015, 0.0002, 0.00025, 0.0003, 0.00035, 0.0004, 0.00045, 0.0005, 0.00055, 0.0006, 0.00065, 0.0007],
    "labelExpr": "abs(datum.value) < 1e-12 ? '-0.00000000' : format(datum.value, '.8f')",
    "labelFont": "Liberation Sans", "labelFontSize": 11.5, "labelColor": "#e8e8e8", "labelPadding": 4,
    "domainColor": "#8c8c8c", "tickColor": "#8c8c8c", "tickSize": 3, "grid": false, "title": null, "zindex": 1}},
  "y2": {"field": "c"},
  "color": {"condition": {"test": "datum.c >= datum.o", "value": "#43a649"}, "value": "#d42b28"}}},
{"mark": {"type": "rule", "color": "#4caf50", "strokeWidth": 1, "strokeDash": [2, 2]},
 "encoding": {"y": {"datum": 0.00033998, "type": "quantitative", "axis": null}}},
{"mark": {"type": "rect", "color": "#4caf50"},
 "encoding": {"x": {"datum": 1391673743000, "type": "temporal", "axis": null}, "x2": {"datum": 1397358172000},
  "y": {"datum": 0.00034828, "type": "quantitative", "axis": null}, "y2": {"datum": 0.00033231}}},
{"mark": {"type": "rect", "color": "#4caf50"},
 "encoding": {"x": {"datum": 1516921474000, "type": "temporal", "axis": null}, "x2": {"datum": 1523209925000},
  "y": {"datum": 0.00034828, "type": "quantitative", "axis": null}, "y2": {"datum": 0.00033231}}},
{"mark": {"type": "text", "align": "center", "baseline": "middle", "font": "Liberation Sans", "fontSize": 11.5, "color": "#ffffff"},
 "encoding": {"x": {"datum": 1394520095000, "type": "temporal", "axis": null}, "y": {"datum": 0.00034, "type": "quantitative", "axis": null}, "text": {"value": "0.00033998"}}},
{"mark": {"type": "text", "align": "center", "baseline": "middle", "font": "Liberation Sans", "fontSize": 11.5, "color": "#ffffff"},
 "encoding": {"x": {"datum": 1520065700000, "type": "temporal", "axis": null}, "y": {"datum": 0.00034, "type": "quantitative", "axis": null}, "text": {"value": "0.00033998"}}},
{"mark": {"type": "text", "align": "left", "baseline": "middle", "font": "Liberation Sans", "fontSize": 7.2, "fontWeight": "bold", "color": "#e8e8e8"},
 "encoding": {"x": {"datum": 1398102857000, "type": "temporal", "axis": null}, "y": {"datum": 0.00072818, "type": "quantitative", "axis": null}, "text": {"value": "Viacoin / Bitcoin, W, POLONIEX"}}},
{"mark": {"type": "text", "align": "left", "baseline": "middle", "font": "Liberation Sans", "fontSize": 7.3, "color": "#e8e8e8"},
 "encoding": {"x": {"datum": 1398102857000, "type": "temporal", "axis": null}, "y": {"datum": 0.00071879, "type": "quantitative", "axis": null}, "text": {"value": "Ichimoku (20, 60, 120, 30)"}}},
{"mark": {"type": "text", "align": "left", "baseline": "middle", "font": "Liberation Sans", "fontSize": 7.2, "color": "#3ea3dc"},
 "encoding": {"x": {"datum": 1391342772000, "type": "temporal", "axis": null}, "y": {"datum": 0.00075846, "type": "quantitative", "axis": null}, "text": {"value": "IAmSatoshi"}}},
{"mark": {"type": "text", "align": "left", "baseline": "middle", "font": "Liberation Sans", "fontSize": 6.8, "color": "#1e222d"},
 "encoding": {"x": {"datum": 1394520095000, "type": "temporal", "axis": null}, "y": {"datum": 0.00075846, "type": "quantitative", "axis": null}, "text": {"value": "published on TradingView.com, June 10, 2017 10:40 EDT"}}},
{"mark": {"type": "text", "align": "left", "baseline": "middle", "font": "Liberation Sans", "fontSize": 6.2, "fontWeight": "bold", "color": "#1e222d"},
 "encoding": {"x": {"datum": 1391342772000, "type": "temporal", "axis": null}, "y": {"datum": 0.00074729, "type": "quantitative", "axis": null}, "text": {"value": "POLONIEX:VIABTC, W"}}},
{"mark": {"type": "text", "align": "left", "baseline": "middle", "font": "Liberation Sans", "fontSize": 7.3, "color": "#1e222d"},
 "encoding": {"x": {"datum": 1397689143000, "type": "temporal", "axis": null}, "y": {"datum": 0.00074729, "type": "quantitative", "axis": null}, "text": {"value": "0.00033998"}}},
{"mark": {"type": "text", "align": "left", "baseline": "middle", "font": "DejaVu Sans", "fontSize": 6, "color": "#2ea84a"},
 "encoding": {"x": {"datum": 1401081596000, "type": "temporal", "axis": null}, "y": {"datum": 0.00074729, "type": "quantitative", "axis": null}, "text": {"value": "▲"}}},
{"mark": {"type": "text", "align": "left", "baseline": "middle", "font": "Liberation Sans", "fontSize": 7.3, "color": "#1e222d"},
 "encoding": {"x": {"datum": 1401553230000, "type": "temporal", "axis": null}, "y": {"datum": 0.00074729, "type": "quantitative", "axis": null}, "text": {"value": "+0.00006676 (+24.43%)"}}},
{"mark": {"type": "text", "align": "left", "baseline": "middle", "font": "Liberation Sans", "fontSize": 7.3, "color": "#1e222d"},
 "encoding": {"x": {"datum": 1408445703000, "type": "temporal", "axis": null}, "y": {"datum": 0.00074729, "type": "quantitative", "axis": null}, "text": {"value": "O:"}}},
{"mark": {"type": "text", "align": "left", "baseline": "middle", "font": "Liberation Sans", "fontSize": 7.3, "color": "#2ea84a"},
 "encoding": {"x": {"datum": 1409049725000, "type": "temporal", "axis": null}, "y": {"datum": 0.00074729, "type": "quantitative", "axis": null}, "text": {"value": "0.00020849"}}},
{"mark": {"type": "text", "align": "left", "baseline": "middle", "font": "Liberation Sans", "fontSize": 7.3, "color": "#1e222d"},
 "encoding": {"x": {"datum": 1412524921000, "type": "temporal", "axis": null}, "y": {"datum": 0.00074729, "type": "quantitative", "axis": null}, "text": {"value": "H:"}}},
{"mark": {"type": "text", "align": "left", "baseline": "middle", "font": "Liberation Sans", "fontSize": 7.3, "color": "#2ea84a"},
 "encoding": {"x": {"datum": 1412996555000, "type": "temporal", "axis": null}, "y": {"datum": 0.00074729, "type": "quantitative", "axis": null}, "text": {"value": "0.00035450"}}},
{"mark": {"type": "text", "align": "left", "baseline": "middle", "font": "Liberation Sans", "fontSize": 7.3, "color": "#1e222d"},
 "encoding": {"x": {"datum": 1416496574000, "type": "temporal", "axis": null}, "y": {"datum": 0.00074729, "type": "quantitative", "axis": null}, "text": {"value": "L:"}}},
{"mark": {"type": "text", "align": "left", "baseline": "middle", "font": "Liberation Sans", "fontSize": 7.3, "color": "#2ea84a"},
 "encoding": {"x": {"datum": 1416943385000, "type": "temporal", "axis": null}, "y": {"datum": 0.00074729, "type": "quantitative", "axis": null}, "text": {"value": "0.00020002"}}},
{"mark": {"type": "text", "align": "left", "baseline": "middle", "font": "Liberation Sans", "fontSize": 7.3, "color": "#1e222d"},
 "encoding": {"x": {"datum": 1420526147000, "type": "temporal", "axis": null}, "y": {"datum": 0.00074729, "type": "quantitative", "axis": null}, "text": {"value": "C:"}}},
{"mark": {"type": "text", "align": "left", "baseline": "middle", "font": "Liberation Sans", "fontSize": 7.3, "color": "#2ea84a"},
 "encoding": {"x": {"datum": 1421080524000, "type": "temporal", "axis": null}, "y": {"datum": 0.00074729, "type": "quantitative", "axis": null}, "text": {"value": "0.00033998"}}},
{"mark": {"type": "text", "align": "left", "baseline": "middle", "font": "Liberation Sans", "fontSize": 7.6, "color": "#1e222d"},
 "encoding": {"x": {"datum": 1391342772000, "type": "temporal", "axis": null}, "y": {"datum": -0.00006293, "type": "quantitative", "axis": null}, "text": {"value": "Created with"}}},
{"mark": {"type": "text", "align": "left", "baseline": "middle", "font": "DejaVu Sans", "fontSize": 12, "color": "#5fb0e2"},
 "encoding": {"x": {"datum": 1395347522000, "type": "temporal", "axis": null}, "y": {"datum": -0.00006293, "type": "quantitative", "axis": null}, "text": {"value": "☁"}}},
{"mark": {"type": "text", "align": "left", "baseline": "middle", "font": "Liberation Sans", "fontSize": 7.5, "color": "#4aa8de"},
 "encoding": {"x": {"datum": 1396721052000, "type": "temporal", "axis": null}, "y": {"datum": -0.00006293, "type": "quantitative", "axis": null}, "text": {"value": "TradingView"}}}
]
}
